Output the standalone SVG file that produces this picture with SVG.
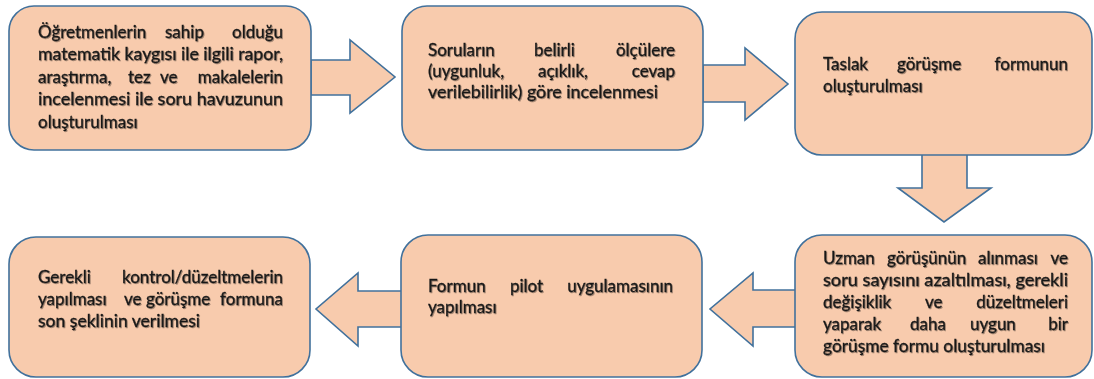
<svg xmlns="http://www.w3.org/2000/svg" width="1094" height="379" viewBox="0 0 1094 379">
<defs>
<filter id="sh" x="-5%" y="-20%" width="110%" height="140%">
<feDropShadow dx="0.9" dy="0.9" stdDeviation="0.7" flood-color="#000" flood-opacity="0.4"/>
</filter>
<style>
.box{fill:#F8CBAD;stroke:#41719C;stroke-width:1.6}
.arr{fill:#F8CBAD;stroke:#41719C;stroke-width:1.6;stroke-linejoin:miter}
text{font-family:Lato,"Liberation Sans",sans-serif;font-size:17px;fill:#1a1a1a;stroke:#1a1a1a;stroke-width:0.3;filter:url(#sh)}
.e{text-anchor:end}
</style>
</defs>
<rect width="1094" height="379" fill="#fff"/>
<g id="connectors">
<polygon class="arr" points="311,60 350,60 350,40 395,77 350,113 350,95 311,95"/>
<polygon class="arr" points="703,65 745,65 745,48 788,84 745,120 745,102 703,102"/>
<polygon class="arr" points="922,154 922,188 898,188 944,222 991,188 967,188 967,154"/>
<polygon class="arr" points="796,290 753,290 753,273 710,309 753,346 753,327 796,327"/>
<polygon class="arr" points="402,291 358,291 358,273 316,309 358,346 358,327 402,327"/>
</g>
<g id="node1">
<rect class="box" x="9" y="6" width="302" height="144" rx="25"/>
<text x="38" y="38">Öğretmenlerin</text><text x="165" y="38">sahip</text><text class="e" x="283" y="38">olduğu</text>
<text x="38" y="60" textLength="245" lengthAdjust="spacingAndGlyphs">matematik kaygısı ile ilgili rapor,</text>
<text x="38" y="83">araştırma,</text><text x="128" y="83">tez</text><text x="160" y="83">ve</text><text class="e" x="283" y="83">makalelerin</text>
<text x="38" y="105" textLength="245" lengthAdjust="spacingAndGlyphs">incelenmesi ile soru havuzunun</text>
<text x="38" y="128">oluşturulması</text>
</g>
<g id="node2">
<rect class="box" x="402" y="6" width="301" height="144" rx="25"/>
<text x="428" y="56">Soruların</text><text x="534" y="56">belirli</text><text class="e" x="675" y="56">ölçülere</text>
<text x="428" y="77">(uygunluk,</text><text x="538" y="77">açıklık,</text><text class="e" x="675" y="77">cevap</text>
<text x="428" y="98" textLength="230" lengthAdjust="spacingAndGlyphs">verilebilirlik) göre incelenmesi</text>
</g>
<g id="node3">
<rect class="box" x="795" y="12" width="297" height="143" rx="27"/>
<text x="823" y="70">Taslak</text><text x="897" y="70">görüşme</text><text class="e" x="1068" y="70">formunun</text>
<text x="823" y="92">oluşturulması</text>
</g>
<g id="node6">
<rect class="box" x="795" y="235" width="297" height="142" rx="27"/>
<text x="823" y="264">Uzman</text><text x="887" y="264">görüşünün</text><text x="978" y="264">alınması</text><text class="e" x="1068" y="264">ve</text>
<text x="823" y="286" textLength="245" lengthAdjust="spacingAndGlyphs">soru sayısını azaltılması, gerekli</text>
<text x="823" y="308">değişiklik</text><text x="925" y="308">ve</text><text class="e" x="1068" y="308">düzeltmeleri</text>
<text x="823" y="330">yaparak</text><text x="910" y="330">daha</text><text x="970" y="330">uygun</text><text class="e" x="1068" y="330">bir</text>
<text x="823" y="352" textLength="222" lengthAdjust="spacingAndGlyphs">görüşme formu oluşturulması</text>
</g>
<g id="node5">
<rect class="box" x="401" y="235" width="301" height="142" rx="27"/>
<text x="428" y="292">Formun</text><text x="510" y="292">pilot</text><text class="e" x="673" y="292">uygulamasının</text>
<text x="428" y="313">yapılması</text>
</g>
<g id="node4">
<rect class="box" x="9" y="237" width="301" height="140" rx="27"/>
<text x="38" y="283">Gerekli</text><text class="e" x="283" y="283">kontrol/düzeltmelerin</text>
<text x="38" y="305">yapılması</text><text x="124" y="305">ve</text><text x="146" y="305">görüşme</text><text class="e" x="283" y="305">formuna</text>
<text x="38" y="327" textLength="162" lengthAdjust="spacingAndGlyphs">son şeklinin verilmesi</text>
</g>
</svg>
